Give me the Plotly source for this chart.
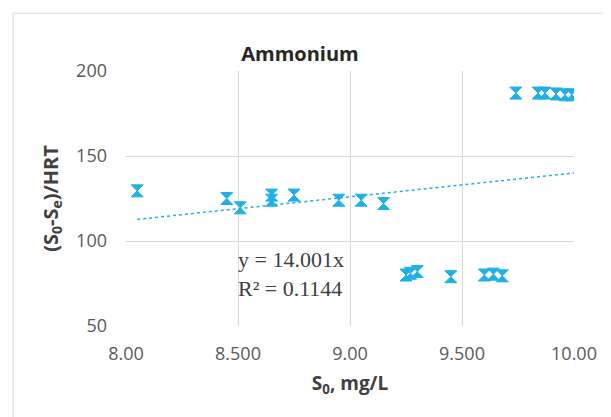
import plotly.graph_objects as go

# Data
s0 = [8.05, 8.45, 8.51, 8.65, 8.65, 8.75, 8.95, 9.05, 9.15,
      9.25, 9.27, 9.30, 9.45, 9.60, 9.64, 9.68,
      9.74, 9.84, 9.87, 9.92, 9.96, 9.99]
rate = [129.5, 125, 119.5, 127, 124, 127, 124, 124, 122,
        80, 81, 82, 79, 80, 80.5, 79.5,
        187, 187, 187, 186.5, 186, 186]

trend_slope = 14.001
trend_x = [8.05, 10.0]
trend_y = [trend_slope * v for v in trend_x]

x_ticks = [8.0, 8.5, 9.0, 9.5, 10.0]
x_tick_text = ["8.00", "8.500", "9.00", "9.500", "10.00"]
y_ticks = [50, 100, 150, 200]

blue = "#1FB0E6"
font = "Open Sans"

fig = go.Figure()
fig.add_trace(go.Scatter(
    x=trend_x, y=trend_y, mode="lines",
    line=dict(color=blue, width=1.5, dash="dot"),
    showlegend=False, hoverinfo="skip"))
fig.add_trace(go.Scatter(
    x=s0, y=rate, mode="markers",
    marker=dict(symbol="hourglass", size=12, color=blue,
                line=dict(color=blue, width=1)),
    showlegend=False))

fig.add_annotation(
    x=(228 - 118) / 448, y=(318 - 266) / 255, xref="paper", yref="paper",
    xanchor="left", yanchor="middle", align="left", showarrow=False,
    text="y = 14.001x<br>R² = 0.1144",
    font=dict(family="Liberation Serif", size=22, color="#404040"))

# outer chart frame
fig.add_shape(type="rect", xref="paper", yref="paper",
              x0=-0.252, x1=1.087, y0=-0.369, y1=1.227,
              line=dict(color="#D9D9D9", width=1), layer="below")

fig.update_layout(
    width=611, height=417,
    margin=dict(l=118, r=45, t=63, b=99),
    paper_bgcolor="white", plot_bgcolor="white",
    title=dict(text="<b>Ammonium</b>", x=292 / 611, xanchor="center",
               y=1 - 46 / 417, yanchor="middle",
               font=dict(family=font, size=20, color="#262626")),
    xaxis=dict(range=[8.0, 10.0], tickvals=x_ticks, ticktext=x_tick_text,
               showgrid=True, gridcolor="#D9D9D9", gridwidth=1,
               zeroline=False, showline=False, ticks="",
               ticklabelstandoff=15,
               tickfont=dict(family=font, size=18, color="#595959"),
               title=dict(text="<b>S<sub>0</sub>, mg/L</b>", standoff=12,
                          font=dict(family=font, size=19, color="#404040"))),
    yaxis=dict(range=[50, 200], tickvals=y_ticks,
               showgrid=True, gridcolor="#D9D9D9", gridwidth=1,
               zeroline=False, showline=False, ticks="",
               ticklabelstandoff=18,
               tickfont=dict(family=font, size=18, color="#595959"),
               title=dict(text="<b>(S<sub>0</sub>-S<sub>e</sub>)/HRT</b>", standoff=12,
                          font=dict(family=font, size=20, color="#404040"))),
)

fig.write_html("out.html")
